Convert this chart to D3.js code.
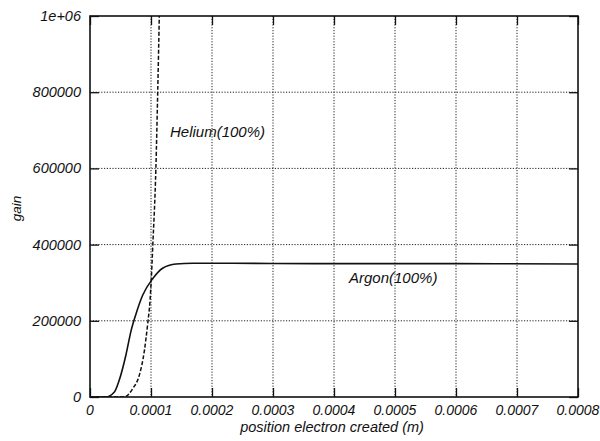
<!DOCTYPE html>
<html>
<head>
<meta charset="utf-8">
<script src="https://cdn.jsdelivr.net/npm/d3@7"></script>
<style>
  html, body { margin: 0; padding: 0; background: #fff; }
  svg { display: block; }
  text { font-family: "Liberation Sans", Arial, Helvetica, sans-serif; font-style: italic; fill: #111; }
</style>
</head>
<body>
<svg id="chart" width="600" height="441"></svg>
<script>
// Gain versus position where the primary electron is created
const xTicks = [0, 0.0001, 0.0002, 0.0003, 0.0004, 0.0005, 0.0006, 0.0007, 0.0008];
const xTickLabels = ["0", "0.0001", "0.0002", "0.0003", "0.0004", "0.0005", "0.0006", "0.0007", "0.0008"];
const yTicks = [0, 200000, 400000, 600000, 800000, 1000000];
const yTickLabels = ["0", "200000", "400000", "600000", "800000", "1e+06"];

// Argon(100%) — solid curve
const argonX = [0, 0.000026, 0.000040, 0.000048, 0.000059, 0.0000672, 0.0000754, 0.0000863, 0.000103, 0.000119, 0.000141, 0.000168, 0.0002, 0.0004, 0.0006, 0.0008];
const argonGain = [0, 0, 13000, 44500, 111000, 173000, 218000, 267000, 311000, 338000, 349000, 351000, 351000, 350000, 350000, 349000];

// Helium(100%) — dashed curve
const heliumX = [0, 0.000056, 0.000070, 0.000081, 0.000089, 0.0000945, 0.0000984, 0.0001005, 0.000103, 0.000108, 0.000111, 0.0001136];
const heliumGain = [0, 0, 22000, 58000, 120000, 191000, 253000, 310000, 400000, 600000, 800000, 1000000];

const svg = d3.select("#chart");
const plotLeft = 90, plotRight = 578, plotTop = 16, plotBottom = 397;

const x = d3.scaleLinear().domain([0, 0.0008]).range([plotLeft, plotRight]);
const y = d3.scaleLinear().domain([0, 1000000]).range([plotBottom, plotTop]);

// dotted grid
const grid = svg.append("g").attr("stroke", "#222").attr("stroke-width", 1).attr("stroke-dasharray", "1.2,1.6");
grid.selectAll("line.v").data(xTicks.slice(1, -1)).join("line").attr("class", "v")
  .attr("x1", d => x(d)).attr("x2", d => x(d)).attr("y1", plotTop).attr("y2", plotBottom);
grid.selectAll("line.h").data(yTicks.slice(1, -1)).join("line").attr("class", "h")
  .attr("x1", plotLeft).attr("x2", plotRight).attr("y1", d => y(d)).attr("y2", d => y(d));

// inward tick marks on all four sides
const tickLen = 9;
const axes = svg.append("g");
[d3.axisBottom(x).tickValues(xTicks).tickSize(tickLen).tickFormat(""),
 d3.axisTop(x).tickValues(xTicks).tickSize(tickLen).tickFormat("")].forEach((ax, i) => {
  const g = axes.append("g").attr("transform", `translate(0,${i === 0 ? plotBottom - tickLen : plotTop + tickLen})`).call(ax);
  g.select(".domain").remove();
  g.selectAll("line").attr("stroke", "#111").attr("stroke-width", 1.3);
});
[d3.axisLeft(y).tickValues(yTicks).tickSize(tickLen).tickFormat(""),
 d3.axisRight(y).tickValues(yTicks).tickSize(tickLen).tickFormat("")].forEach((ax, i) => {
  const g = axes.append("g").attr("transform", `translate(${i === 0 ? plotLeft + tickLen : plotRight - tickLen},0)`).call(ax);
  g.select(".domain").remove();
  g.selectAll("line").attr("stroke", "#111").attr("stroke-width", 1.3);
});

// frame
svg.append("rect").attr("x", plotLeft).attr("y", plotTop).attr("width", plotRight - plotLeft).attr("height", plotBottom - plotTop)
  .attr("fill", "none").attr("stroke", "#111").attr("stroke-width", 1.6);

// tick labels
svg.append("g").selectAll("text").data(xTicks).join("text")
  .attr("x", d => x(d)).attr("y", plotBottom + 18).attr("text-anchor", "middle")
  .attr("font-size", 14).text((d, i) => xTickLabels[i]);
svg.append("g").selectAll("text").data(yTicks).join("text")
  .attr("x", plotLeft - 9).attr("y", d => y(d) + 5).attr("text-anchor", "end")
  .attr("font-size", 14.5).text((d, i) => yTickLabels[i]);

// axis titles
svg.append("text").attr("x", (plotLeft + plotRight) / 2 - 2).attr("y", plotBottom + 35).attr("text-anchor", "middle")
  .attr("font-size", 14.5).text("position electron created (m)");
svg.append("text").attr("transform", `translate(21,${(plotTop + plotBottom) / 2 + 2}) rotate(-90)`).attr("text-anchor", "middle")
  .attr("font-size", 13.5).text("gain");

// curves
svg.append("clipPath").attr("id", "plotClip").append("rect")
  .attr("x", plotLeft).attr("y", plotTop).attr("width", plotRight - plotLeft).attr("height", plotBottom - plotTop);
const line = d3.line().x(d => x(d[0])).y(d => y(d[1])).curve(d3.curveMonotoneX);

svg.append("path").datum(argonX.map((v, i) => [v, argonGain[i]]))
  .attr("d", line).attr("fill", "none").attr("stroke", "#111").attr("stroke-width", 1.6)
  .attr("clip-path", "url(#plotClip)");
svg.append("path").datum(heliumX.map((v, i) => [v, heliumGain[i]]))
  .attr("d", line).attr("fill", "none").attr("stroke", "#111").attr("stroke-width", 1.5)
  .attr("stroke-dasharray", "4,2").attr("clip-path", "url(#plotClip)");

// curve labels
svg.append("text").attr("x", 170).attr("y", 137).attr("font-size", 15).text("Helium(100%)");
svg.append("text").attr("x", 349).attr("y", 283).attr("font-size", 15).text("Argon(100%)");
</script>
</body>
</html>
